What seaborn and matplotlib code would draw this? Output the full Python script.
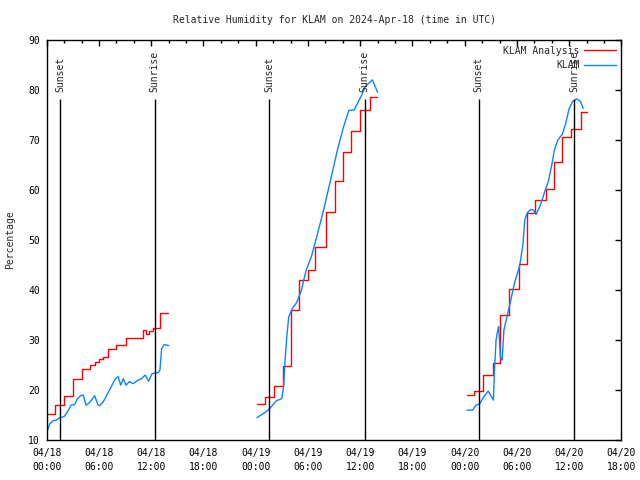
import numpy as np
import pandas as pd
import matplotlib
matplotlib.use('Agg')
import matplotlib.pyplot as plt
from matplotlib.lines import Line2D
from matplotlib.ticker import MultipleLocator
import seaborn as sns

# ── data (hours since 2024-04-18 00:00 UTC) ─────────────────────────────
TITLE = 'Relative Humidity for KLAM on 2024-Apr-18 (time in UTC)'

# KLAM Analysis: step series, one list per day segment
ana_hours_1 = [0.0, 1.0, 2.0, 3.0, 4.0, 5.0, 5.5, 6.0, 6.5, 7.0, 8.0, 9.1,
               11.0, 11.4, 11.8, 12.2, 13.0, 13.9]
ana_rh_1 = [15.2, 17.0, 18.9, 22.2, 24.3, 25.0, 25.7, 26.3, 26.7, 28.2, 29.0, 30.5,
            32.0, 31.2, 31.8, 32.5, 35.5, 35.5]
ana_hours_2 = [24.15, 25.1, 26.1, 27.1, 28.0, 29.0, 30.0, 30.8, 32.1, 33.1, 34.0,
               34.9, 36.0, 37.1, 37.9]
ana_rh_2 = [17.2, 18.7, 20.8, 24.9, 36.0, 42.1, 44.0, 48.7, 55.5, 61.7, 67.5,
            71.7, 76.0, 78.5, 78.5]
ana_hours_3 = [48.25, 49.1, 50.1, 51.2, 52.1, 53.1, 54.2, 55.1, 56.1, 57.3, 58.2,
               59.2, 60.2, 61.3, 62.0]
ana_rh_3 = [19.0, 19.8, 23.1, 25.5, 35.1, 40.3, 45.3, 55.3, 58.0, 60.2, 65.5,
            70.5, 72.2, 75.5, 75.5]

# KLAM observations
obs_hours_1 = [0.06, 0.35, 0.75, 1.1, 1.5, 2.0, 2.4, 2.8, 3.2, 3.5, 3.9, 4.2, 4.5,
               4.9, 5.2, 5.5, 5.9, 6.1, 6.5, 7.0, 7.5, 7.9, 8.2, 8.5, 8.8, 9.1,
               9.5, 9.9, 10.5, 10.9, 11.3, 11.7, 12.1, 12.8, 13.0, 13.2, 13.5, 14.0]
obs_rh_1 = [11.8, 13.3, 13.9, 14.0, 14.5, 14.7, 15.7, 17.0, 17.1, 18.2, 18.9, 19.0, 17.0,
            17.5, 18.2, 18.9, 17.0, 16.9, 17.7, 19.3, 21.0, 22.3, 22.7, 21.0, 22.3, 21.0,
            21.7, 21.3, 22.0, 22.3, 23.0, 21.8, 23.3, 23.5, 24.0, 28.3, 29.1, 28.9]
obs_hours_2 = [24.15, 25.3, 25.8, 26.4, 27.0, 27.2, 27.4, 27.6, 27.8, 28.2, 28.7,
               29.2, 29.8, 30.4, 31.0, 31.8, 32.6, 33.4, 34.1, 34.7, 35.3, 36.1,
               36.6, 37.4, 38.0]
obs_rh_2 = [14.5, 15.8, 16.7, 17.9, 18.3, 20.7, 26.7, 31.3, 34.7, 36.3, 37.5,
            39.7, 44.0, 46.7, 50.6, 56.0, 62.0, 68.1, 72.7, 75.9, 76.0, 78.7,
            80.7, 82.0, 79.5]
obs_hours_3 = [48.25, 48.9, 49.3, 49.7, 50.2, 50.7, 51.3, 51.4, 51.6, 51.8, 51.9,
               52.1, 52.3, 52.5, 52.9, 53.3, 53.7, 54.3, 54.7, 54.9, 55.2, 55.6,
               55.9, 56.2, 56.7, 57.2, 57.6, 58.0, 58.3, 58.7, 59.2, 59.6, 60.0,
               60.4, 60.9, 61.3, 61.6]
obs_rh_3 = [16.0, 16.0, 17.0, 17.2, 18.7, 19.8, 18.0, 23.3, 30.0, 32.0, 32.7,
            26.7, 26.0, 32.0, 35.0, 38.0, 41.3, 44.7, 49.3, 54.0, 55.5, 56.1,
            56.0, 55.1, 57.0, 59.7, 61.7, 65.0, 68.0, 70.0, 71.1, 73.3, 76.3,
            77.7, 78.2, 77.7, 76.3]

sunset_hours = [1.55, 25.57, 49.6]
sunrise_hours = [12.4, 36.5, 60.6]
sun_line_top = 78.2
sun_text_y = 79.6

xtick_hours = [0, 6, 12, 18, 24, 30, 36, 42, 48, 54, 60, 66]
xtick_labels = ['04/18\n00:00', '04/18\n06:00', '04/18\n12:00', '04/18\n18:00',
                '04/19\n00:00', '04/19\n06:00', '04/19\n12:00', '04/19\n18:00',
                '04/20\n00:00', '04/20\n06:00', '04/20\n12:00', '04/20\n18:00']

RED = '#ff0000'
BLUE = '#0a84ff'


def segments_frame(hours_list, rh_list):
    parts = []
    for i, (h, v) in enumerate(zip(hours_list, rh_list)):
        parts.append(pd.DataFrame({'hour': h, 'rh': v, 'seg': i}))
    return pd.concat(parts, ignore_index=True)


ana = segments_frame([ana_hours_1, ana_hours_2, ana_hours_3],
                     [ana_rh_1, ana_rh_2, ana_rh_3])
obs = segments_frame([obs_hours_1, obs_hours_2, obs_hours_3],
                     [obs_rh_1, obs_rh_2, obs_rh_3])

# ── plot ────────────────────────────────────────────────────────────────
sns.set_style('white')
plt.rcParams['font.family'] = ['DejaVu Sans Mono']
plt.rcParams['font.size'] = 7

fig, ax = plt.subplots(figsize=(6.4, 4.8), dpi=100)
fig.subplots_adjust(left=0.073, right=0.971, bottom=0.083, top=0.917)

sns.lineplot(data=ana, x='hour', y='rh', units='seg', estimator=None,
             color=RED, lw=1, drawstyle='steps-post', ax=ax)
sns.lineplot(data=obs, x='hour', y='rh', units='seg', estimator=None,
             color=BLUE, lw=1, ax=ax)

ax.vlines(sunset_hours + sunrise_hours, 10, sun_line_top, color='black', lw=1)
for h in sunset_hours:
    ax.text(h, sun_text_y, 'Sunset', rotation=90, ha='center', va='bottom')
for h in sunrise_hours:
    ax.text(h, sun_text_y, 'Sunrise', rotation=90, ha='center', va='bottom')

ax.set_xlim(0, 66)
ax.set_ylim(10, 90)
ax.set_xticks(xtick_hours)
ax.set_xticklabels(xtick_labels)
for lbl in ax.get_xticklabels():
    lbl.set_linespacing(1.45)
ax.xaxis.set_minor_locator(MultipleLocator(2))
ax.yaxis.set_major_locator(MultipleLocator(10))

ax.tick_params(which='both', direction='in', top=True, right=True, width=1,
               colors='black', labelsize=7)
ax.tick_params(which='major', length=4.5, pad=6)
ax.tick_params(which='minor', length=2.5)
ax.tick_params(axis='y', pad=5)
for sp in ax.spines.values():
    sp.set_color('black')
    sp.set_linewidth(1)

ax.set_xlabel('')
ax.set_ylabel('Percentage', fontsize=7, labelpad=9)
ax.set_title(TITLE, fontsize=7, pad=12)

handles = [Line2D([], [], color=RED, lw=1), Line2D([], [], color=BLUE, lw=1)]
ax.legend(handles, ['KLAM Analysis', 'KLAM'], loc='upper right', frameon=False,
          markerfirst=False, fontsize=7, handlelength=3.2, handletextpad=0.5,
          labelspacing=0.45, borderaxespad=0.2)

plt.savefig('out.png', dpi=100)
plt.close()
